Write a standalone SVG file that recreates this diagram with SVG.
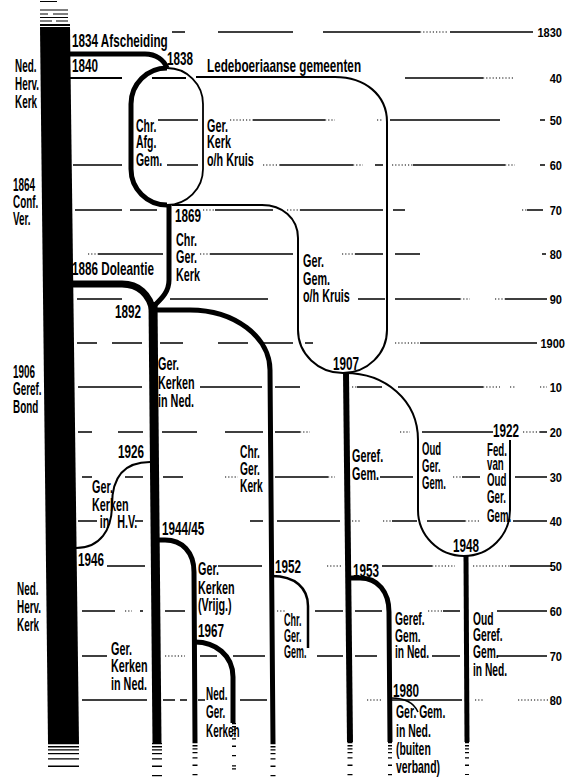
<svg xmlns="http://www.w3.org/2000/svg" width="573" height="783" viewBox="0 0 573 783">
<style>
.g{fill:none;stroke:#000;stroke-width:1.3}
.gd{fill:none;stroke:#000;stroke-width:1.1;stroke-dasharray:1.2 2}
.c{fill:none;stroke:#000;stroke-linecap:butt}
.fade{fill:none;stroke:#000;stroke-dasharray:1.3 1.8 1.3 1.8 1.3 2.5 1.3 4 1.3 6 1.3 8 1.3 9}
.t{font-family:"Liberation Sans",Arial,sans-serif;font-weight:bold;font-size:18px;fill:#000}
.s{font-family:"Liberation Sans",Arial,sans-serif;font-weight:bold;font-size:13px;fill:#000;text-anchor:end}
</style>
<rect width="573" height="783" fill="#fff"/>

<g id="grid">
<path class="g" d="M172,32H185M218,32H293M323,32H420M450,32H533
M405,78H483
M158,120H198M253,120H325M390,120H500M540,120H545
M73,165H122M167,165H198M280,165H353M375,165H383M413,165H505M540,165H545
M75,210H122M130,210H157M215,210H273M300,210H383M393,210H405M527,210H543
M98,254H163M210,254H293M355,254H383M395,254H420M542,254H546
M77,299H122M170,299H268M358,299H385M395,299H460M505,299H547
M77,343H97M112,343H142M160,343H183M218,343H248M263,343H293M305,343H313M420,343H537
M78,387H142M200,387H262M275,387H300M357,387H382M398,387H483
M78,432H92M118,432H143M162,432H197M225,432H263M275,432H300M422,432H493M540,432H547
M82,477H92M125,477H143M163,477H183M275,477H328M380,477H413M462,477H480M515,477H547
M78,521H97M135,521H143M250,521H263M277,521H340M392,521H417M427,521H465M513,521H547
M107,566H145M218,566H262M382,566H432M510,566H552
M82,611H115M140,611H143M165,611H185M315,611H343M355,611H382M443,611H460M497,611H547
M82,656H107M200,656H217M233,656H265M317,656H343M355,656H377M432,656H460M497,656H547
M82,700H147M163,700H175M180,700H187M198,700H205M240,700H267M392,700H462"/>
<path class="gd" d="M420,32H447M483,78H513M230,120H253M325,120H335M377,120H383M263,165H280M353,165H363M392,165H413M505,165H515
M203,210H215M287,210H300M522,210H527M88,254H98M200,254H210M342,254H355M460,299H470M495,299H505M395,343H420
M352,387H357M483,387H500M510,387H515M540,387H547M300,432H310M400,432H410M523,432H540
M225,477H238M328,477H335M453,477H462M352,521H360M383,521H392M465,521H480M327,566H343M432,566H455M473,566H510
M277,611H285M125,611H132M428,611H443M165,656H185M367,700H382M475,700H483M518,700H553"/>
</g>

<g id="scale">
<text class="s" transform="translate(562,37) scale(0.85,1)">1830</text>
<text class="s" transform="translate(562,83) scale(0.85,1)">40</text>
<text class="s" transform="translate(562,125) scale(0.85,1)">50</text>
<text class="s" transform="translate(562,170) scale(0.85,1)">60</text>
<text class="s" transform="translate(562,215) scale(0.85,1)">70</text>
<text class="s" transform="translate(562,259) scale(0.85,1)">80</text>
<text class="s" transform="translate(562,304) scale(0.85,1)">90</text>
<text class="s" transform="translate(565,348) scale(0.85,1)">1900</text>
<text class="s" transform="translate(562,392) scale(0.85,1)">10</text>
<text class="s" transform="translate(562,437) scale(0.85,1)">20</text>
<text class="s" transform="translate(562,482) scale(0.85,1)">30</text>
<text class="s" transform="translate(562,526) scale(0.85,1)">40</text>
<text class="s" transform="translate(562,571) scale(0.85,1)">50</text>
<text class="s" transform="translate(562,616) scale(0.85,1)">60</text>
<text class="s" transform="translate(562,661) scale(0.85,1)">70</text>
<text class="s" transform="translate(562,705) scale(0.85,1)">80</text>
</g>

<g id="connectors">
<polygon points="40,27 70,27 79,743 48,743" fill="#000"/>
<path class="c" stroke-width="1.2" d="M40,1.5H57M40,10H68M40,14H48M53,14H68M40,17.5H68M40,21H52M56,21H68"/>
<path class="c" stroke-width="2" d="M40,25H70"/>
<line class="fade" x1="63.5" y1="743" x2="63.5" y2="775" stroke-width="31"/>
<path class="c" stroke-width="5" d="M70,54H145C156,54 164,60 167,68"/>
<path class="c" stroke-width="5" d="M167,68A36,36 0 0 0 131,104V169A36,36 0 0 0 167,205"/>
<path class="c" stroke-width="1.8" d="M167,68A36,36 0 0 1 203,104V169A36,36 0 0 1 167,205"/>
<path class="c" stroke-width="2.2" d="M70,78H122M152,78H186"/>
<path class="c" stroke-width="2" d="M196,77H335C365,77 387,95 387,122V330A44,43 0 0 1 343,373"/>
<path class="c" stroke-width="5" d="M169,205V280C169,293 160,300 153,307"/>
<path class="c" stroke-width="2" d="M172,205H262C282,205 298,218 298,238V330A45,43 0 0 0 343,373"/>
<path class="c" stroke-width="7" d="M72,284H122C138,284 150,294 153,312"/>
<path class="c" stroke-width="9" d="M153,302L157,743"/>
<line class="fade" x1="157" y1="743" x2="157" y2="780" stroke-width="10"/>
<path class="c" stroke-width="5" d="M157,310H190A80,60 0 0 1 270,370L273,743"/>
<line class="fade" x1="273" y1="743" x2="273" y2="780" stroke-width="5"/>
<path class="c" stroke-width="6" d="M346,372L350,742"/>
<line class="fade" x1="350" y1="742" x2="350" y2="778" stroke-width="5"/>
<path class="c" stroke-width="2" d="M345,373C385,373 418,400 418,440V510A46,46 0 0 0 464,556A46,46 0 0 0 510,510V440"/>
<path class="c" stroke-width="5" d="M466,556L467,742"/>
<line class="fade" x1="467" y1="742" x2="467" y2="775" stroke-width="4"/>
<path class="c" stroke-width="2" d="M150,462C122,462 112,480 112,505C112,530 100,548 76,548"/>
<path class="c" stroke-width="5" d="M157,540H165C182,540 194,552 194,572L195,742"/>
<line class="fade" x1="195" y1="742" x2="195" y2="780" stroke-width="5"/>
<path class="c" stroke-width="5" d="M195,642C215,642 233,655 233,677V723"/>
<line class="fade" x1="234" y1="723" x2="234" y2="770" stroke-width="4"/>
<path class="c" stroke-width="2.5" d="M272,576C295,576 308,588 308,606V648"/>
<path class="c" stroke-width="5" d="M350,578H360C378,578 389,592 389,612L390,742"/>
<line class="fade" x1="390" y1="742" x2="390" y2="778" stroke-width="4"/>
<path class="c" stroke-width="1.6" d="M391,698C405,698 414,703 418,712"/>
</g>

<g id="ned-herv-kerk">
<text class="t" transform="translate(15,72) scale(0.55,1)"><tspan x="0" y="0">Ned.</tspan><tspan x="0" y="18">Herv.</tspan><tspan x="0" y="36">Kerk</tspan></text>
<text class="t" transform="translate(13,191) scale(0.55,1)"><tspan x="0" y="0">1864</tspan><tspan x="0" y="17">Conf.</tspan><tspan x="0" y="34">Ver.</tspan></text>
<text class="t" transform="translate(13,378) scale(0.55,1)"><tspan x="0" y="0">1906</tspan><tspan x="0" y="17">Geref.</tspan><tspan x="0" y="35">Bond</tspan></text>
<text class="t" transform="translate(17,595) scale(0.55,1)"><tspan x="0" y="0">Ned.</tspan><tspan x="0" y="18">Herv.</tspan><tspan x="0" y="36">Kerk</tspan></text>
</g>
<g id="afscheiding">
<text class="t" transform="translate(72,47) scale(0.65,1)">1834 Afscheiding</text>
<text class="t" transform="translate(167,65) scale(0.65,1)">1838</text>
</g>
<g id="ledeboer">
<text class="t" transform="translate(72,72) scale(0.65,1)">1840</text>
<text class="t" transform="translate(207,72) scale(0.65,1)">Ledeboeriaanse gemeenten</text>
</g>
<g id="chr-afg-gem">
<text class="t" transform="translate(136,132) scale(0.58,1)"><tspan x="0" y="0">Chr.</tspan><tspan x="0" y="16">Afg.</tspan><tspan x="0" y="34">Gem.</tspan></text>
</g>
<g id="ger-kerk-oh-kruis">
<text class="t" transform="translate(207,132) scale(0.6,1)"><tspan x="0" y="0">Ger.</tspan><tspan x="0" y="16">Kerk</tspan><tspan x="0" y="34">o/h Kruis</tspan></text>
</g>
<g id="chr-ger-kerk-1869">
<text class="t" transform="translate(175,222) scale(0.65,1)">1869</text>
<text class="t" transform="translate(176,246) scale(0.6,1)"><tspan x="0" y="0">Chr.</tspan><tspan x="0" y="17">Ger.</tspan><tspan x="0" y="35">Kerk</tspan></text>
</g>
<g id="ger-gem-oh-kruis">
<text class="t" transform="translate(303,267) scale(0.6,1)"><tspan x="0" y="0">Ger.</tspan><tspan x="0" y="18">Gem.</tspan><tspan x="0" y="35">o/h Kruis</tspan></text>
</g>
<g id="doleantie">
<text class="t" transform="translate(72,275) scale(0.65,1)">1886 Doleantie</text>
</g>
<g id="ger-kerken-in-ned">
<text class="t" transform="translate(115,318) scale(0.65,1)">1892</text>
<text class="t" transform="translate(158,370) scale(0.6,1)"><tspan x="0" y="0">Ger.</tspan><tspan x="0" y="19">Kerken</tspan><tspan x="0" y="37">in Ned.</tspan></text>
<text class="t" transform="translate(111,655) scale(0.6,1)"><tspan x="0" y="0">Ger.</tspan><tspan x="0" y="17">Kerken</tspan><tspan x="0" y="35">in Ned.</tspan></text>
</g>
<g id="chr-ger-kerk">
<text class="t" transform="translate(240,458) scale(0.57,1)"><tspan x="0" y="0">Chr.</tspan><tspan x="0" y="17">Ger.</tspan><tspan x="0" y="34">Kerk</tspan></text>
</g>
<g id="geref-gem">
<text class="t" transform="translate(333,370) scale(0.65,1)">1907</text>
<text class="t" transform="translate(352,462) scale(0.6,1)"><tspan x="0" y="0">Geref.</tspan><tspan x="0" y="18">Gem.</tspan></text>
</g>
<g id="oud-ger-gem">
<text class="t" transform="translate(422,455) scale(0.53,1)"><tspan x="0" y="0">Oud</tspan><tspan x="0" y="17">Ger.</tspan><tspan x="0" y="34">Gem.</tspan></text>
</g>
<g id="fed-oud-ger-gem">
<text class="t" transform="translate(493,437) scale(0.65,1)">1922</text>
<text class="t" transform="translate(487,456) scale(0.54,1)"><tspan x="0" y="0">Fed.</tspan><tspan x="0" y="14">van</tspan><tspan x="0" y="30">Oud</tspan><tspan x="0" y="47">Ger.</tspan><tspan x="0" y="66">Gem.</tspan></text>
</g>
<g id="ger-kerken-hv">
<text class="t" transform="translate(118,458) scale(0.65,1)">1926</text>
<text class="t" transform="translate(92,493) scale(0.6,1)"><tspan x="0" y="0">Ger.</tspan><tspan x="0" y="18">Kerken</tspan><tspan x="13" y="35">in</tspan><tspan x="42" y="35">H.V.</tspan></text>
<text class="t" transform="translate(78,566) scale(0.65,1)">1946</text>
</g>
<g id="ger-kerken-vrijg">
<text class="t" transform="translate(162,535) scale(0.65,1)">1944/45</text>
<text class="t" transform="translate(198,575) scale(0.6,1)"><tspan x="0" y="0">Ger.</tspan><tspan x="0" y="19">Kerken</tspan><tspan x="0" y="36">(Vrijg.)</tspan></text>
</g>
<g id="ned-ger-kerken">
<text class="t" transform="translate(198,637) scale(0.65,1)">1967</text>
<text class="t" transform="translate(206,700) scale(0.55,1)"><tspan x="0" y="0">Ned.</tspan><tspan x="0" y="18">Ger.</tspan><tspan x="0" y="37">Kerken</tspan></text>
</g>
<g id="oud-geref-gem-in-ned">
<text class="t" transform="translate(453,552) scale(0.65,1)">1948</text>
<text class="t" transform="translate(473,625) scale(0.57,1)"><tspan x="0" y="0">Oud</tspan><tspan x="0" y="16">Geref.</tspan><tspan x="0" y="33">Gem.</tspan><tspan x="0" y="51">in Ned.</tspan></text>
</g>
<g id="chr-ger-gem">
<text class="t" transform="translate(275,573) scale(0.65,1)">1952</text>
<text class="t" transform="translate(284,626) scale(0.5,1)"><tspan x="0" y="0">Chr.</tspan><tspan x="0" y="16">Ger.</tspan><tspan x="0" y="32">Gem.</tspan></text>
</g>
<g id="geref-gem-in-ned">
<text class="t" transform="translate(353,577) scale(0.65,1)">1953</text>
<text class="t" transform="translate(395,625) scale(0.57,1)"><tspan x="0" y="0">Geref.</tspan><tspan x="0" y="17">Gem.</tspan><tspan x="0" y="33">in Ned.</tspan></text>
</g>
<g id="buiten-verband">
<text class="t" transform="translate(393,697) scale(0.65,1)">1980</text>
<text class="t" transform="translate(396,718) scale(0.58,1)"><tspan x="0" y="0">Ger. Gem.</tspan><tspan x="0" y="19">in Ned.</tspan><tspan x="0" y="37">(buiten</tspan><tspan x="0" y="55">verband)</tspan></text>
</g>
</svg>
